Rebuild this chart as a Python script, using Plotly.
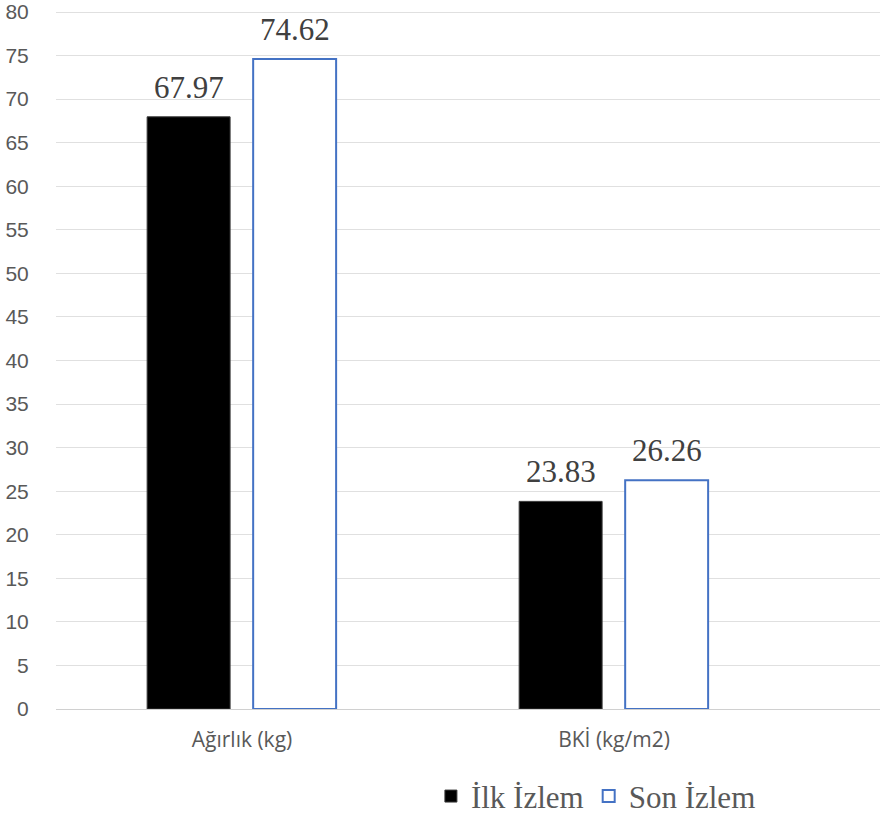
import plotly.graph_objects as go

# Measurements at first and last follow-up
categories = ["Ağırlık (kg)", "BKİ (kg/m2)"]
series_names = ["İlk İzlem", "Son İzlem"]
ilk_izlem = [67.97, 23.83]
son_izlem = [74.62, 26.26]
y_ticks = list(range(0, 85, 5))

bar_width = 0.223
offsets = [-0.255, 0.030]
fills = ["#000000", "#FFFFFF"]
edges = ["#3a3a3a", "#4472C4"]
edge_widths = [1, 2]

fig = go.Figure()
annotations = []
for name, values, off, fill, edge, ew in zip(series_names, [ilk_izlem, son_izlem],
                                            offsets, fills, edges, edge_widths):
    fig.add_trace(go.Bar(
        x=list(range(len(categories))), y=values, name=name,
        width=bar_width, offset=off,
        marker=dict(color=fill, line=dict(color=edge, width=ew)),
    ))
    for i, v in enumerate(values):
        annotations.append(dict(
            x=i + off + bar_width / 2, y=v, xref="x", yref="y",
            text=f"{v:.2f}", showarrow=False, yanchor="bottom", yshift=10,
            font=dict(family="Liberation Serif", size=31, color="#404040"),
        ))

fig.update_layout(
    width=880, height=816,
    margin=dict(l=56, r=0, t=4, b=107, autoexpand=False),
    paper_bgcolor="white", plot_bgcolor="white",
    barmode="overlay",
    annotations=annotations,
    showlegend=True,
    legend=dict(
        orientation="h", x=0.455, xanchor="left",
        yref="container", y=0.024, yanchor="middle",
        font=dict(family="Liberation Serif", size=31, color="#595959"),
        itemwidth=30, traceorder="normal",
    ),
    xaxis=dict(
        range=[-0.5, 1.715],
        tickmode="array", tickvals=list(range(len(categories))), ticktext=categories,
        showgrid=False, showline=True, linecolor="#d0d0d0", linewidth=1,
        ticks="outside", ticklen=12, tickcolor="rgba(0,0,0,0)",
        tickfont=dict(family="Open Sans", size=21, color="#595959"),
    ),
    yaxis=dict(
        range=[0, 80.92], tickmode="array", tickvals=y_ticks,
        showgrid=True, gridcolor="#e0e0e0", gridwidth=1,
        zeroline=False, showline=False,
        ticks="outside", ticklen=22, tickcolor="rgba(0,0,0,0)",
        ticklabeloverflow="allow",
        tickfont=dict(family="Liberation Sans", size=21, color="#595959"),
    ),
)

fig.write_html("out.html")
